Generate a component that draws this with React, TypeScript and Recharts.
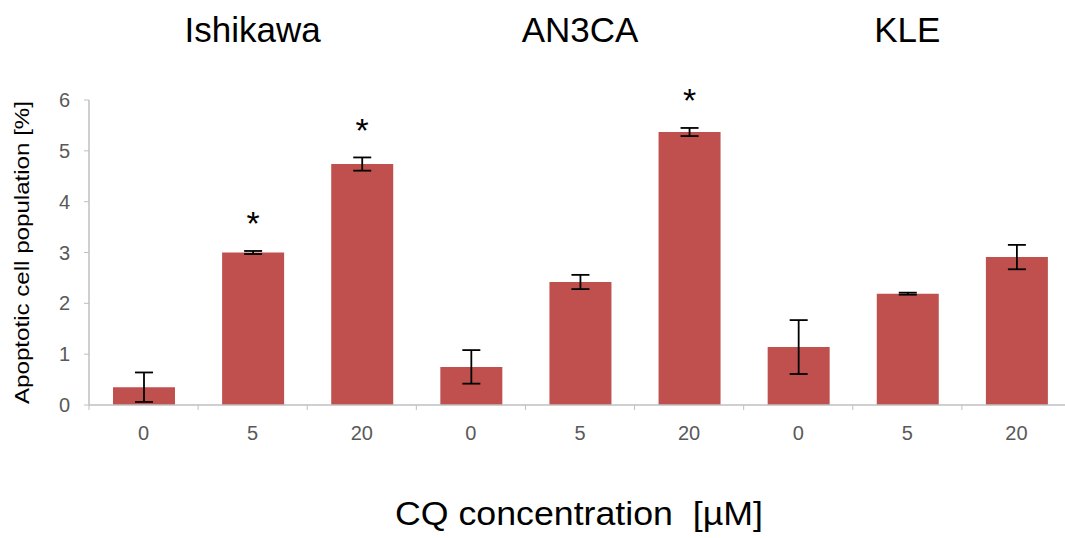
import React from 'react';
import { BarChart, Bar, XAxis, YAxis, ErrorBar, LabelList } from 'recharts';

// Apoptotic cell population (%) after chloroquine treatment, three cell lines
const cellLines = ['Ishikawa', 'AN3CA', 'KLE'];
const concentrations = ['0', '5', '20', '0', '5', '20', '0', '5', '20'];
const apoptosis = [0.35, 3.0, 4.74, 0.75, 2.42, 5.37, 1.14, 2.19, 2.91];
const errors = [0.29, 0.03, 0.13, 0.33, 0.14, 0.08, 0.53, 0.02, 0.24];
const significant = [false, true, true, false, false, true, false, false, false];
const yTicks = [0, 1, 2, 3, 4, 5, 6];

const data = concentrations.map((c, i) => ({
  key: `c${i}`,
  conc: c,
  value: apoptosis[i],
  err: errors[i],
  sig: significant[i],
}));

const WIDTH = 1075;
const HEIGHT = 538;
const MARGIN = { top: 100, right: 4, bottom: 103, left: 29 };
const Y_AXIS_W = 60;
const X_AXIS_H = 30;
const PLOT_LEFT = MARGIN.left + Y_AXIS_W;
const PLOT_W = WIDTH - PLOT_LEFT - MARGIN.right;
const PLOT_BOTTOM = HEIGHT - MARGIN.bottom - X_AXIS_H;
const BAND = PLOT_W / data.length;
const AXIS_COLOR = '#BFBFBF';
const FONT = 'Liberation Sans, Arial, sans-serif';

const XTick = (props: any) => {
  const { x, index } = props;
  const y0 = PLOT_BOTTOM;
  const last = index === data.length - 1;
  return (
    <g>
      <line x1={x - BAND / 2} x2={x - BAND / 2} y1={y0} y2={y0 + 5} stroke={AXIS_COLOR} />
      {last && <line x1={x + BAND / 2} x2={x + BAND / 2} y1={y0} y2={y0 + 5} stroke={AXIS_COLOR} />}
      <text x={x} y={y0 + 35} textAnchor="middle" fontSize={20} fill="#595959" fontFamily={FONT}>
        {data[index].conc}
      </text>
    </g>
  );
};

const Star = (props: any) => {
  const { x, y, width, height, index } = props;
  const d = data[index];
  if (!d.sig) return null;
  const pxPerUnit = height / d.value;
  const errTop = y - d.err * pxPerUnit;
  const cy = errTop - 0.7 * pxPerUnit;
  return (
    <text x={x + width / 2} y={cy + 20} textAnchor="middle" fontSize={34} fill="#000" fontFamily={FONT}>
      *
    </text>
  );
};

const YLabel = () => {
  const cy = MARGIN.top + (PLOT_BOTTOM - MARGIN.top) / 2;
  return (
    <text
      x={0}
      y={0}
      transform={`translate(29, ${cy}) rotate(-90)`}
      textAnchor="middle"
      fontSize={21}
      fill="#000"
      fontFamily={FONT}
      textLength={303}
      lengthAdjust="spacingAndGlyphs"
    >
      Apoptotic cell population [%]
    </text>
  );
};

export default function App() {
  return (
    <div style={{ position: 'absolute', left: 0, top: 0, width: 1065, height: 538, overflow: 'hidden', background: '#fff' }}>
      <BarChart width={WIDTH} height={HEIGHT} data={data} margin={MARGIN}>
        <XAxis
          dataKey="key"
          height={X_AXIS_H}
          tickLine={false}
          axisLine={{ stroke: AXIS_COLOR, strokeWidth: 1.5 }}
          tick={<XTick />}
          interval={0}
        />
        <YAxis
          width={Y_AXIS_W}
          domain={[0, 6]}
          ticks={yTicks}
          tickSize={5}
          tickMargin={14}
          axisLine={{ stroke: AXIS_COLOR, strokeWidth: 1.5 }}
          tickLine={{ stroke: AXIS_COLOR }}
          tick={{ fontSize: 20, fill: '#595959', fontFamily: FONT }}
          label={<YLabel />}
        />
        <Bar dataKey="value" fill="#C0504D" barSize={62} isAnimationActive={false}>
          <ErrorBar dataKey="err" width={9} stroke="#000" strokeWidth={1.8} />
          <LabelList dataKey="value" content={<Star />} />
        </Bar>
        {cellLines.map((name, g) => (
          <text
            key={name}
            x={PLOT_LEFT + BAND * (g * 3 + 1.5)}
            y={42}
            textAnchor="middle"
            fontSize={35}
            fill="#000"
            fontFamily={FONT}
          >
            {name}
          </text>
        ))}
        <text x={579} y={525} textAnchor="middle" fontSize={34} fill="#000" fontFamily={FONT} textLength={368} lengthAdjust="spacingAndGlyphs">
          {'CQ concentration\u00a0 [µM]'}
        </text>
      </BarChart>
    </div>
  );
}
